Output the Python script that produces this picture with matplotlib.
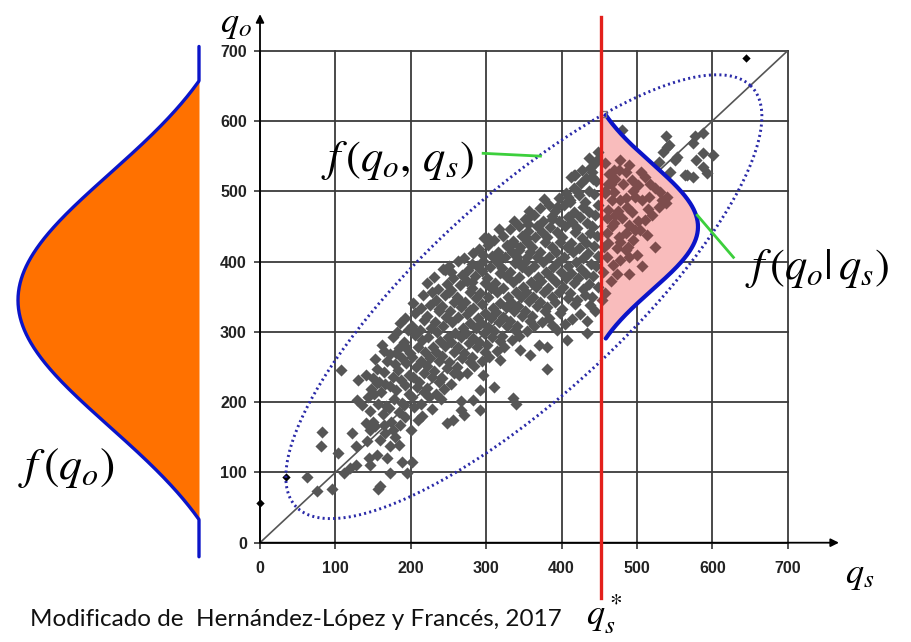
import numpy as np
import matplotlib.pyplot as plt

plt.rcParams['mathtext.fontset'] = 'stix'

W, H = 912, 642

# --- data (qs, qo) ---
ticks = [0, 100, 200, 300, 400, 500, 600, 700]

core_pts = [
    (141, 171), (146, 188), (143, 207), (147, 219), (140, 238),
    (153, 166), (157, 197), (151, 211), (158, 229), (155, 247), (152, 262),
    (163, 183), (167, 194), (161, 214), (166, 226), (164, 243), (168, 259), (162, 281),
    (174, 172), (171, 191), (178, 205), (172, 223), (176, 236), (179, 254), (173, 268), (177, 293),
    (184, 186), (188, 199), (181, 217), (187, 231), (183, 246), (189, 263), (185, 277), (182, 300), (186, 312),
    (193, 179), (191, 196), (198, 212), (192, 224), (197, 239), (194, 255), (199, 270), (191, 286), (196, 303), (193, 319),
    (204, 193), (201, 207), (208, 221), (203, 236), (207, 250), (202, 264), (209, 279), (205, 295), (201, 309), (206, 327), (203, 341),
    (214, 198), (218, 214), (211, 229), (217, 242), (213, 258), (219, 271), (215, 288), (212, 302), (218, 317), (214, 334), (216, 352),
    (224, 207), (221, 220), (228, 236), (222, 251), (226, 263), (229, 279), (223, 293), (227, 306), (221, 323), (225, 338), (228, 357), (222, 369),
    (234, 212), (238, 229), (231, 244), (237, 258), (233, 271), (239, 287), (235, 300), (232, 314), (238, 329), (234, 346), (236, 361), (231, 378),
    (244, 219), (241, 235), (248, 249), (242, 266), (246, 280), (249, 292), (243, 308), (247, 321), (241, 337), (245, 353), (248, 368), (243, 389),
    (254, 226), (258, 241), (251, 257), (257, 272), (253, 286), (259, 299), (255, 314), (252, 330), (258, 343), (254, 359), (256, 376), (251, 394),
    (264, 238), (261, 250), (268, 263), (262, 278), (266, 293), (269, 305), (263, 321), (267, 336), (261, 350), (265, 366), (268, 381), (263, 401),
    (274, 241), (278, 257), (271, 270), (277, 284), (273, 299), (279, 313), (275, 326), (272, 342), (278, 357), (274, 372), (276, 388), (271, 405),
    (284, 252), (281, 264), (288, 279), (282, 291), (286, 306), (289, 320), (283, 334), (287, 348), (281, 363), (285, 379), (288, 394), (283, 412),
    (294, 259), (298, 272), (291, 286), (297, 298), (293, 313), (299, 327), (295, 340), (292, 355), (298, 369), (294, 386), (296, 401), (291, 418), (297, 433),
    (304, 264), (301, 281), (308, 293), (302, 307), (306, 320), (309, 334), (303, 349), (307, 362), (301, 377), (305, 392), (308, 408), (303, 424),
    (314, 273), (318, 287), (311, 301), (317, 314), (313, 328), (319, 341), (315, 356), (312, 370), (318, 384), (314, 399), (316, 414), (311, 431), (317, 447),
    (324, 279), (321, 294), (328, 308), (322, 321), (326, 336), (329, 350), (323, 363), (327, 378), (321, 391), (325, 406), (328, 422), (323, 437),
    (334, 288), (338, 302), (331, 315), (337, 329), (333, 343), (339, 357), (335, 371), (332, 385), (338, 398), (334, 413), (336, 429), (331, 446), (337, 458),
    (344, 294), (341, 309), (348, 323), (342, 337), (346, 350), (349, 364), (343, 378), (347, 392), (341, 406), (345, 421), (348, 436), (343, 451),
    (354, 301), (358, 316), (351, 330), (357, 344), (353, 357), (359, 371), (355, 386), (352, 399), (358, 413), (354, 428), (356, 443), (351, 461), (357, 472),
    (364, 308), (361, 322), (368, 337), (362, 350), (366, 364), (369, 378), (363, 393), (367, 407), (361, 420), (365, 435), (368, 450), (363, 466),
    (374, 314), (378, 329), (371, 343), (377, 357), (373, 372), (379, 385), (375, 400), (372, 414), (378, 428), (374, 442), (376, 458), (371, 476), (377, 489),
    (384, 320), (381, 336), (388, 350), (382, 363), (386, 378), (389, 392), (383, 407), (387, 421), (381, 435), (385, 449), (388, 465), (383, 481),
    (394, 303), (398, 327), (391, 342), (397, 357), (393, 371), (399, 385), (395, 400), (392, 413), (398, 428), (394, 442), (396, 457), (391, 472), (397, 490),
    (404, 311), (401, 333), (408, 348), (402, 364), (406, 377), (409, 393), (403, 406), (407, 421), (401, 435), (405, 450), (408, 464), (403, 480), (406, 497),
    (414, 318), (418, 340), (411, 355), (417, 369), (413, 384), (419, 399), (415, 413), (412, 427), (418, 442), (414, 456), (416, 471), (411, 487), (417, 505), (413, 520),
    (424, 325), (421, 346), (428, 361), (422, 376), (426, 390), (429, 405), (423, 419), (427, 434), (421, 448), (425, 463), (428, 478), (423, 494), (426, 512),
    (434, 316), (438, 338), (431, 353), (437, 368), (433, 383), (439, 397), (435, 412), (432, 426), (438, 441), (434, 455), (436, 470), (431, 485), (437, 501), (433, 519), (438, 533),
    (444, 330), (441, 349), (448, 364), (442, 379), (446, 393), (449, 408), (443, 422), (447, 437), (441, 451), (445, 466), (448, 480), (443, 496), (446, 514), (441, 528), (447, 545),
]

lower_tail_pts = [
    (62, 94), (82, 158), (81, 138), (75, 73), (95, 77), (104, 127), (108, 246),
    (130, 231), (122, 156), (128, 137), (157, 77), (144, 120), (155, 125),
    (146, 110), (168, 120), (173, 99), (188, 115), (201, 115), (195, 99),
    (159, 80), (142, 144), (159, 146), (166, 156), (173, 137), (184, 139),
    (179, 151), (146, 160), (150, 172), (164, 168), (111, 99), (120, 106),
    (128, 111), (150, 234), (155, 227), (129, 203), (135, 196), (164, 273),
    (181, 270), (193, 280), (381, 247), (339, 198), (336, 206), (358, 267),
    (370, 281), (345, 274), (319, 260), (292, 217), (310, 222), (283, 203),
    (292, 189), (266, 189), (270, 182), (256, 175), (248, 170), (266, 201),
    (296, 239), (407, 288), (434, 298), (387, 310), (381, 278), (228, 190),
    (215, 180), (240, 205), (186, 167), (200, 160), (210, 175), (176, 160),
]

upper_tail_pts = [
    (302, 433), (296, 409), (319, 407), (327, 423), (336, 426), (343, 416),
    (341, 402), (354, 407), (281, 397), (246, 388), (253, 385), (251, 357),
    (237, 333), (201, 305), (192, 279), (281, 371), (266, 343), (279, 331),
    (418, 523), (442, 518), (422, 499), (409, 492), (411, 485), (394, 478),
    (387, 461), (354, 461), (356, 454), (369, 450), (354, 433), (416, 523),
    (440, 521), (445, 540), (436, 548), (448, 556), (427, 530),
]

cond_pts = [
    (476, 530), (485, 528), (471, 518), (465, 511), (482, 511), (493, 516),
    (502, 509), (511, 521), (518, 511), (524, 504), (531, 499), (540, 492),
    (538, 483), (529, 478), (520, 466), (511, 459), (502, 457), (493, 471),
    (487, 478), (478, 488), (467, 488), (462, 473), (471, 466), (480, 462),
    (489, 452), (498, 445), (485, 440), (476, 435), (467, 450), (460, 440),
    (462, 426), (474, 419), (485, 416), (489, 407), (478, 402), (460, 407),
    (513, 438), (524, 421), (507, 393), (474, 383), (489, 383), (458, 355),
    (454, 345), (462, 511), (469, 499), (458, 497), (498, 492), (507, 488),
    (516, 492), (533, 488), (470, 530), (478, 544), (490, 538), (505, 528),
    (458, 540), (463, 525), (458, 500), (468, 395), (456, 420), (495, 430),
    (504, 445), (478, 428), (465, 372), (455, 385), (500, 410), (488, 420),
    (470, 455), (460, 462), (475, 472), (486, 490), (495, 500), (515, 475),
]

upper_right_pts = [
    (480, 587), (538, 578), (542, 566), (577, 578), (587, 583), (574, 568),
    (587, 554), (601, 551), (578, 544), (587, 535), (567, 523), (575, 520),
    (551, 544), (540, 563), (529, 541), (544, 527), (534, 556), (553, 549),
    (593, 526), (564, 523),
]

dark_pts = [(0, 56), (34, 93), (645, 689)]

# shape parameters
qs_star = 452                      # red cut line
ell_c, ell_a, ell_b = 350, 425, 137  # ellipse centre / half axes along 1:1
marg_mu, marg_s, marg_cut = 345, 180, 312   # f(qo)
cond_mu, cond_s, cond_cut, cond_amp = 449.5, 90, 165, 126  # f(qo|qs)

BLUE = '#0b14c8'
ORANGE = '#ff7100'
RED = '#e3201c'
GREEN = '#3ccf3c'
NAVY = '#2a2aa8'


def bell(q, mu, s, cut):
    g = np.exp(-0.5 * ((q - mu) / s) ** 2)
    g0 = np.exp(-0.5 * (cut / s) ** 2)
    return np.clip((g - g0) / (1 - g0), 0, None)


def px_box(x0, y0, x1, y1):
    return [x0 / W, 1 - y1 / H, (x1 - x0) / W, (y1 - y0) / H]


fig = plt.figure(figsize=(W / 100, H / 100), dpi=100)
ax = fig.add_axes(px_box(260, 50.7, 787.7, 542.7))
ax.set_xlim(0, 700)
ax.set_ylim(0, 700)
for s in ax.spines.values():
    s.set_visible(False)
ax.set_xticks(ticks)
ax.set_yticks(ticks)
ax.grid(True, color='#3a3a3a', lw=1.3)
for gl in ax.get_xgridlines() + ax.get_ygridlines():
    gl.set_clip_on(False)
ax.set_axisbelow(True)
ax.tick_params(direction='out', length=4.5, width=1.2, color='#333333')
ax.tick_params(axis='x', pad=9)
ax.tick_params(axis='y', pad=5)
for lab in ax.get_xticklabels() + ax.get_yticklabels():
    lab.set_fontfamily('Liberation Sans')
    lab.set_fontweight('bold')
    lab.set_fontsize(11.5)
    lab.set_color('#222222')

# axes arrows
ax.annotate('', xy=(768, 0), xytext=(0, 0), annotation_clip=False,
            arrowprops=dict(arrowstyle='-|>', color='black', lw=1.3, mutation_scale=12, shrinkA=0, shrinkB=0))
ax.annotate('', xy=(0, 752), xytext=(0, 0), annotation_clip=False,
            arrowprops=dict(arrowstyle='-|>', color='black', lw=1.3, mutation_scale=12, shrinkA=0, shrinkB=0))

# 1:1 line
ax.plot([0, 700], [0, 700], color='#555555', lw=1.2, zorder=2)

# scatter
pts = np.array(core_pts + lower_tail_pts + upper_tail_pts + cond_pts + upper_right_pts, dtype=float)
qs, qo = pts[:, 0], pts[:, 1]
inside = (qs > qs_star) & (qs < qs_star + cond_amp * bell(qo, cond_mu, cond_s, cond_cut) + 3)
ax.scatter(qs[~inside], qo[~inside], marker='D', s=38, color='#565656', lw=0, zorder=3)
ax.scatter(qs[inside], qo[inside], marker='D', s=38, color='#7d4c4c', lw=0, zorder=3.2)
dk = np.array(dark_pts, dtype=float)
ax.scatter(dk[:, 0], dk[:, 1], marker='D', s=18, color='black', lw=0, zorder=3.5, clip_on=False)

# conditional density
qc = np.linspace(cond_mu - 159, cond_mu + 159, 300)
wc = qs_star + 3 + cond_amp * bell(qc, cond_mu, cond_s, cond_cut)
ax.fill_betweenx(qc, qs_star, wc, color='#f9bcbc', lw=0, zorder=2.5)
ax.plot(wc, qc, color=BLUE, lw=3, zorder=5, solid_capstyle='round')
ax.plot([qs_star + 3], [qc[-1] + 1], 's', ms=4, mfc='none', mec='#777777', mew=1, zorder=5.5)

# joint density ellipse
t = np.linspace(0, 2 * np.pi, 500)
ex = ell_c + (ell_a * np.cos(t) - ell_b * np.sin(t)) / np.sqrt(2)
ey = ell_c + (ell_a * np.cos(t) + ell_b * np.sin(t)) / np.sqrt(2)
ax.plot(ex, ey, color=NAVY, lw=2.1, ls=(0, (0.7, 1.1)), zorder=4)

# red cut line
ax.plot([qs_star, qs_star], [-79, 748], color=RED, lw=2.4, zorder=6, clip_on=False)

# leader lines
ax.plot([296, 372], [554, 550], color=GREEN, lw=2, zorder=6)
ax.plot([580, 628], [466, 406], color=GREEN, lw=2, zorder=6, clip_on=False)

# marginal f(qo) on the left
axl = fig.add_axes(px_box(0, 50.7, 199, 542.7), sharey=ax)
axl.set_xlim(199 / 181, 0)
axl.axis('off')
ql = np.linspace(-20, 706, 600)
wl = bell(ql, marg_mu, marg_s, marg_cut)
axl.fill_betweenx(ql, 0, wl, color=ORANGE, lw=0, clip_on=False)
axl.plot(wl, ql, color=BLUE, lw=2.4, clip_on=False, solid_capstyle='round')


def ftext(x, y, s, **kw):
    fig.text(x / W, 1 - y / H, s, ha='center', va='center', **kw)


ftext(236, 24, r'$q_o$', fontsize=26)
ftext(860, 575, r'$q_s$', fontsize=26)
ftext(604, 614, r'$q_s^*$', fontsize=26)
ftext(397, 160, r'$f\,(q_o,\,q_s)$', fontsize=32)
ftext(817, 268, r'$f\,(q_o|\,q_s)$', fontsize=32)
ftext(66, 468, r'$f\,(q_o)$', fontsize=33)
fig.text(30 / W, 1 - 620 / H, 'Modificado de  Hernández-López y Francés, 2017',
         fontsize=17.5, family='Lato', ha='left', va='center', color='#111111')

fig.savefig('out.png', dpi=100)
